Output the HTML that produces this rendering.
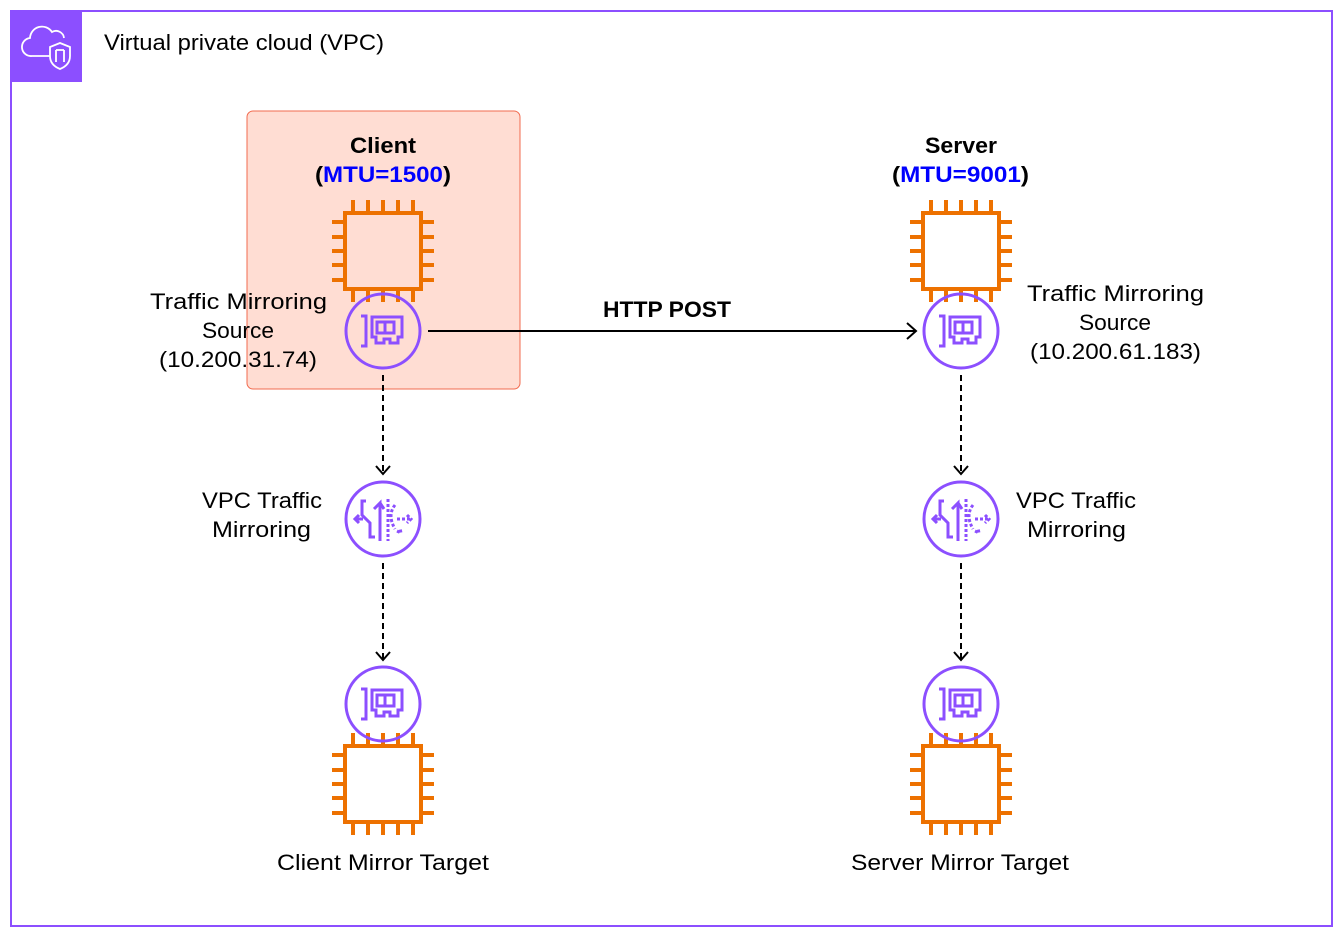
<!DOCTYPE html>
<html><head><meta charset="utf-8"><style>
html,body{margin:0;padding:0;background:#fff;}
svg{display:block}
text{font-family:"Liberation Sans",sans-serif;font-size:22px;fill:#000}
.b{font-weight:bold}
</style></head><body>
<svg width="1342" height="939" viewBox="0 0 1342 939">
<defs>
<g id="chip" fill="none" stroke="#ed7100" stroke-width="4">
<rect x="-38" y="-38" width="76" height="76"/>
<path d="M-30,-39v-12M-15,-39v-12M0,-39v-12M15,-39v-12M30,-39v-12M-30,39v12M-15,39v12M0,39v12M15,39v12M30,39v12M-39,-29h-12M-39,-14h-12M-39,0h-12M-39,14h-12M-39,29h-12M39,-29h12M39,-14h12M39,0h12M39,14h12M39,29h12"/>
</g>
<g id="nic" fill="none" stroke="#8c4fff" stroke-width="3">
<circle r="37"/>
<path d="M-22,-15h5v30h-5"/>
<path d="M-11,-14h30v20h-4v6h-8v-4h-6v4h-8v-6h-4z"/>
<rect x="-6" y="-9" width="17" height="11"/>
<path d="M2,-9v11"/>
</g>
<g id="mir" fill="none" stroke="#8c4fff" stroke-width="3">
<circle r="37"/>
<path d="M-3,22v-38l-6,6M-3,-16l4,6"/>
<path d="M-8,18h-5v-14l-8,-8v-14l4,0"/>
<path d="M-20,0h-8M-24,-4l-4,4l4,4"/>
<path d="M5,-20v42" stroke-dasharray="3,2"/>
<path d="M12,-14q-8,10,0,24M14,12l4,2l-1,-5" stroke-dasharray="3,2"/>
<path d="M14,0h14M24,-4l4,4l-4,4" stroke-dasharray="3,2"/>
</g>
</defs>
<rect x="11" y="11" width="1321" height="915" fill="#fff" stroke="#8c4fff" stroke-width="2"/>
<rect x="10" y="10" width="72" height="72" fill="#8c4fff"/>
<g fill="none" stroke="#fff" stroke-width="1.8">
<path d="M50,56h-18a9,9 0 0 1 -2,-18a12,12 0 0 1 22,-6a8,8 0 0 1 12,6"/>
<path d="M60,43l10,4v9c0,7-5,11-10,13c-5-2-10-6-10-13v-9z"/>
<path d="M56,50v12M64,50v12M56,50h8"/>
</g>
<text x="104" y="50" textLength="280" lengthAdjust="spacingAndGlyphs">Virtual private cloud (VPC)</text>
<rect x="247" y="111" width="273" height="278" rx="6" fill="#ffddd3" stroke="#f26b4f" stroke-width="1"/>
<text x="350" y="153" class="b" textLength="66" lengthAdjust="spacingAndGlyphs">Client</text>
<text x="315" y="182" class="b" textLength="136" lengthAdjust="spacingAndGlyphs">(<tspan style="fill:#0000ff">MTU=1500</tspan>)</text>
<text x="925" y="153" class="b" textLength="72" lengthAdjust="spacingAndGlyphs">Server</text>
<text x="892" y="182" class="b" textLength="137" lengthAdjust="spacingAndGlyphs">(<tspan style="fill:#0000ff">MTU=9001</tspan>)</text>
<use href="#chip" x="383" y="251"/>
<use href="#chip" x="961" y="251"/>
<use href="#chip" x="383" y="784"/>
<use href="#chip" x="961" y="784"/>
<use href="#nic" x="383" y="331"/>
<use href="#nic" x="961" y="331"/>
<use href="#nic" x="383" y="704"/>
<use href="#nic" x="961" y="704"/>
<use href="#mir" x="383" y="519"/>
<use href="#mir" x="961" y="519"/>
<text x="150" y="309" textLength="177" lengthAdjust="spacingAndGlyphs">Traffic Mirroring</text>
<text x="202" y="338" textLength="72" lengthAdjust="spacingAndGlyphs">Source</text>
<text x="159" y="367" textLength="158" lengthAdjust="spacingAndGlyphs">(10.200.31.74)</text>
<text x="1027" y="301" textLength="177" lengthAdjust="spacingAndGlyphs">Traffic Mirroring</text>
<text x="1079" y="330" textLength="72" lengthAdjust="spacingAndGlyphs">Source</text>
<text x="1030" y="359" textLength="171" lengthAdjust="spacingAndGlyphs">(10.200.61.183)</text>
<text x="202" y="508" textLength="120" lengthAdjust="spacingAndGlyphs">VPC Traffic</text>
<text x="212" y="537" textLength="99" lengthAdjust="spacingAndGlyphs">Mirroring</text>
<text x="1016" y="508" textLength="120" lengthAdjust="spacingAndGlyphs">VPC Traffic</text>
<text x="1027" y="537" textLength="99" lengthAdjust="spacingAndGlyphs">Mirroring</text>
<text x="277" y="870" textLength="212" lengthAdjust="spacingAndGlyphs">Client Mirror Target</text>
<text x="851" y="870" textLength="218" lengthAdjust="spacingAndGlyphs">Server Mirror Target</text>
<text x="603" y="317" class="b" textLength="128" lengthAdjust="spacingAndGlyphs">HTTP POST</text>
<g fill="none" stroke="#000" stroke-width="2">
<path d="M428,331H916M907,323l9,8l-9,8"/>
<path d="M383,375V474" stroke-dasharray="6,4"/>
<path d="M376,466l7,8l7,-8"/>
<path d="M383,563V660" stroke-dasharray="6,4"/>
<path d="M376,652l7,8l7,-8"/>
<path d="M961,375V474" stroke-dasharray="6,4"/>
<path d="M954,466l7,8l7,-8"/>
<path d="M961,563V660" stroke-dasharray="6,4"/>
<path d="M954,652l7,8l7,-8"/>
</g>
</svg>
</body></html>
